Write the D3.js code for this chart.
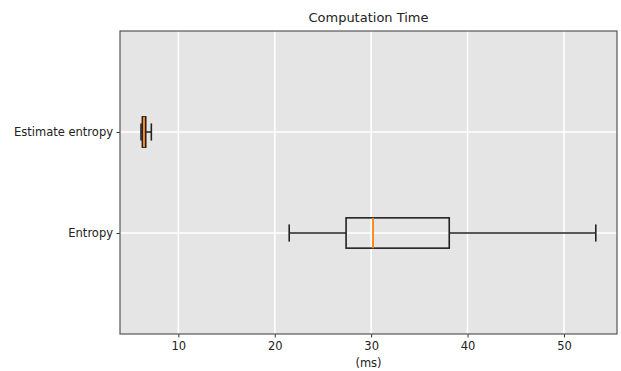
<!DOCTYPE html>
<html><head><meta charset="utf-8">
<script src="https://cdn.jsdelivr.net/npm/d3@7"></script>
<style>body{margin:0;background:#fff;} svg{display:block;font-family:"DejaVu Sans",sans-serif;}</style>
</head><body>
<svg id="c" width="621" height="371"></svg>
<script>
const categories = ["Entropy", "Estimate entropy"];
const positions = [1, 2];
const whiskerLow = [21.5, 6.13];
const q1 = [27.4, 6.27];
const median = [30.2, 6.45];
const q3 = [38.1, 6.62];
const whiskerHigh = [53.3, 7.2];
const xTicks = [10, 20, 30, 40, 50];
const title = "Computation Time";
const xLabel = "(ms)";

const svg = d3.select("#c");
const m = {l: 120, r: 4, t: 31, b: 37};
const W = 621, H = 371;
const x = d3.scaleLinear().domain([3.95, 55.5]).range([m.l, W - m.r]);
const y = d3.scaleLinear().domain([0, 3]).range([H - m.b, m.t]);

svg.append("rect").attr("x", m.l).attr("y", m.t)
  .attr("width", W - m.r - m.l).attr("height", H - m.b - m.t).attr("fill", "#e5e5e5");

// grid
svg.append("g").selectAll("line").data(xTicks).join("line")
  .attr("x1", d => x(d)).attr("x2", d => x(d)).attr("y1", m.t).attr("y2", H - m.b)
  .attr("stroke", "#fff").attr("stroke-width", 1.6);
svg.append("g").selectAll("line").data(positions).join("line")
  .attr("x1", m.l).attr("x2", W - m.r).attr("y1", d => y(d)).attr("y2", d => y(d))
  .attr("stroke", "#fff").attr("stroke-width", 1.6);

// axes
const xa = svg.append("g").attr("transform", `translate(0,${H - m.b})`)
  .call(d3.axisBottom(x).tickValues(xTicks).tickSize(3.5).tickPadding(4).tickFormat(d3.format("d")));
const ya = svg.append("g").attr("transform", `translate(${m.l},0)`)
  .call(d3.axisLeft(y).tickValues(positions).tickSize(3.5).tickPadding(3.5).tickFormat((d, i) => categories[i]));
[xa, ya].forEach(a => {
  a.select(".domain").remove();
  a.selectAll("line").attr("stroke", "#333");
  a.selectAll("text").attr("fill", "#222").attr("font-size", 11.5).attr("font-family", "DejaVu Sans");
});

// frame
svg.append("rect").attr("x", m.l).attr("y", m.t)
  .attr("width", W - m.r - m.l).attr("height", H - m.b - m.t)
  .attr("fill", "none").attr("stroke", "#555").attr("stroke-width", 1.2);

// boxes
const bh = 0.3, cap = 0.17;
const g = svg.append("g");
positions.forEach((p, i) => {
  const cy = y(p);
  const hb = (y(0) - y(bh)) / 2, hc = (y(0) - y(cap)) / 2;
  const k = "#222";
  g.append("line").attr("x1", x(whiskerLow[i])).attr("x2", x(q1[i])).attr("y1", cy).attr("y2", cy).attr("stroke", k).attr("stroke-width", 1.6);
  g.append("line").attr("x1", x(q3[i])).attr("x2", x(whiskerHigh[i])).attr("y1", cy).attr("y2", cy).attr("stroke", k).attr("stroke-width", 1.6);
  [whiskerLow[i], whiskerHigh[i]].forEach(v => {
    g.append("line").attr("x1", x(v)).attr("x2", x(v)).attr("y1", cy - hc).attr("y2", cy + hc).attr("stroke", k).attr("stroke-width", 1.6);
  });
  g.append("rect").attr("x", x(q1[i])).attr("y", cy - hb).attr("width", x(q3[i]) - x(q1[i])).attr("height", 2 * hb)
    .attr("fill", "none").attr("stroke", k).attr("stroke-width", 1.6);
  g.append("line").attr("x1", x(median[i])).attr("x2", x(median[i])).attr("y1", cy - hb).attr("y2", cy + hb)
    .attr("stroke", "#ff7f0e").attr("stroke-width", 1.8);
});

svg.append("text").attr("x", (m.l + W - m.r) / 2).attr("y", 22).attr("text-anchor", "middle")
  .attr("font-size", 13).attr("fill", "#222").text(title);
svg.append("text").attr("x", (m.l + W - m.r) / 2).attr("y", 367).attr("text-anchor", "middle")
  .attr("font-size", 11.5).attr("fill", "#222").text(xLabel);
</script>
</body></html>
